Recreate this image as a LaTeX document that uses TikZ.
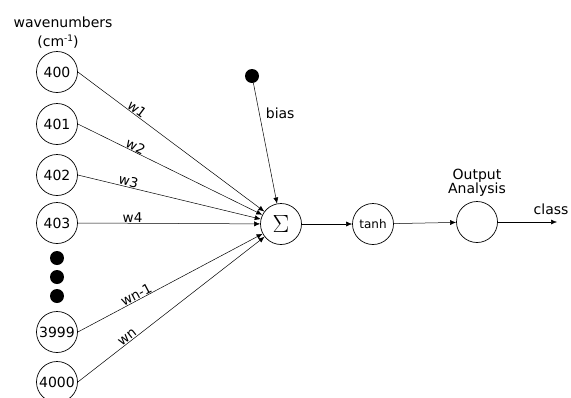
\documentclass[tikz,border=0pt]{standalone}
\usepackage{fontspec}
\setmainfont{DejaVu Sans}
\usetikzlibrary{arrows.meta}
\tikzset{
    neuron/.style={circle, draw, line width=0.7pt, minimum size=41pt, inner sep=0pt},
    bigdot/.style={circle, fill=black, minimum size=14pt, inner sep=0pt},
    link/.style={-{Latex[length=6pt,width=5pt]}, line width=0.5pt},
    weight/.style={sloped, above, inner sep=0.5pt, pos=0.3, font=\fontsize{13.5}{15}\selectfont}
}
\begin{document}
\begin{tikzpicture}[x=1pt, y=-1pt, font=\fontsize{14}{17}\selectfont]
    \useasboundingbox (0,0) rectangle (571,397);

    % Input layer
    \node at (63,22) (title) {wavenumbers};
    \node at (58,42) (unit) {(cm\raisebox{5pt}{\fontsize{9}{10}\selectfont -1})};
    \node[neuron] at (57,72) (in400) {400};
    \node[neuron] at (57,124) (in401) {401};
    \node[neuron] at (57,175) (in402) {402};
    \node[neuron] at (57,223) (in403) {403};
    \node[bigdot] at (57,258) (gap1) {};
    \node[bigdot] at (57,277) (gap2) {};
    \node[bigdot] at (57,296) (gap3) {};
    \node[neuron] at (57,332) (in3999) {3999};
    \node[neuron] at (57,382) (in4000) {4000};

    % Neuron
    \node[neuron] at (281,224) (sum) {\fontsize{26}{28}\selectfont$\Sigma$};
    \node[bigdot] at (252,76) (bias) {};
    \node[neuron] at (373,224) (act) {\fontsize{12}{14}\selectfont tanh};
    \node[neuron] at (477,222) (out) {};
    \node[align=center, above=1pt] at (out.north) (outlabel) {Output\\[-3pt]Analysis};
    \coordinate (end) at (557,222);

    % Weighted inputs
    \draw[link] (in400.east) -- (sum) node[weight] {w1};
    \draw[link] (in401.east) -- (sum) node[weight] {w2};
    \draw[link] (in402.east) -- (sum) node[weight, pos=0.27] {w3};
    \draw[link] (in403.east) -- (sum) node[weight] {w4};
    \draw[link] (in3999.east) -- (sum) node[weight, pos=0.33] {wn-1};
    \draw[link] (in4000.east) -- (sum) node[weight, pos=0.28] {wn};

    % Bias and output
    \draw[link] (bias) -- (sum) node[pos=0.25, right=3pt] {bias};
    \draw[link] (sum) -- (act);
    \draw[link] (act) -- (out);
    \draw[link] (out) -- (end) node[above=4pt, pos=0.9] {class};
\end{tikzpicture}
\end{document}
